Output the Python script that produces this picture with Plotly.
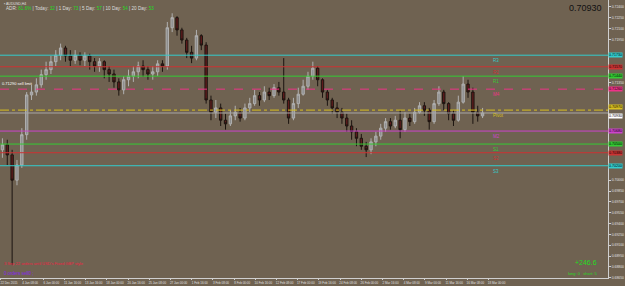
import plotly.graph_objects as go

# ---------------- data ----------------
opens = [0.7042,0.7049,0.7035,0.7000,0.7021,0.7063,0.7118,0.7122,0.7132,0.7146,
         0.7153,0.7164,0.7173,0.7183,0.7172,0.7166,0.7173,0.7166,0.7172,0.7164,
         0.7158,0.7164,0.7153,0.7147,0.7136,0.7125,0.7139,0.7144,0.7150,0.7158,
         0.7153,0.7147,0.7150,0.7161,0.7158,0.7211,0.7225,0.7208,0.7194,0.7177,
         0.7169,0.7200,0.7187,0.7111,0.7094,0.7100,0.7083,0.7078,0.7089,0.7094,
         0.7086,0.7100,0.7106,0.7117,0.7111,0.7122,0.7117,0.7128,0.7122,0.7111,
         0.7086,0.7106,0.7119,0.7130,0.7144,0.7155,0.7139,0.7122,0.7111,0.7100,
         0.7094,0.7086,0.7075,0.7067,0.7058,0.7047,0.7042,0.7053,0.7061,0.7072,
         0.7081,0.7075,0.7083,0.7070,0.7086,0.7081,0.7094,0.7103,0.7097,0.7081,
         0.7106,0.7122,0.7106,0.7092,0.7083,0.7108,0.7133,0.7122,0.7094,0.7089]
highs = [0.7058,0.7056,0.7042,0.7028,0.7072,0.7122,0.7132,0.7141,0.7153,0.7164,
         0.7172,0.7180,0.7189,0.7186,0.7180,0.7180,0.7177,0.7177,0.7175,0.7169,
         0.7169,0.7166,0.7158,0.7153,0.7141,0.7144,0.7153,0.7158,0.7164,0.7166,
         0.7158,0.7158,0.7166,0.7166,0.7219,0.7231,0.7227,0.7211,0.7197,0.7186,
         0.7208,0.7202,0.7191,0.7117,0.7111,0.7106,0.7092,0.7097,0.7103,0.7100,
         0.7106,0.7114,0.7125,0.7122,0.7130,0.7128,0.7133,0.7136,0.7169,0.7114,
         0.7114,0.7128,0.7139,0.7150,0.7164,0.7158,0.7141,0.7125,0.7114,0.7108,
         0.7100,0.7092,0.7083,0.7072,0.7064,0.7053,0.7058,0.7067,0.7078,0.7086,
         0.7086,0.7089,0.7097,0.7094,0.7092,0.7100,0.7108,0.7108,0.7100,0.7111,
         0.7130,0.7125,0.7108,0.7097,0.7117,0.7144,0.7139,0.7128,0.7103,0.7100]
lows = [0.7031,0.7021,0.6883,0.6993,0.7017,0.7056,0.7111,0.7117,0.7128,0.7139,
        0.7147,0.7158,0.7166,0.7164,0.7158,0.7161,0.7159,0.7158,0.7153,0.7150,
        0.7150,0.7141,0.7136,0.7128,0.7117,0.7119,0.7130,0.7136,0.7141,0.7143,
        0.7139,0.7139,0.7144,0.7150,0.7153,0.7205,0.7200,0.7189,0.7169,0.7162,
        0.7166,0.7180,0.7106,0.7083,0.7086,0.7075,0.7070,0.7075,0.7083,0.7081,
        0.7083,0.7094,0.7103,0.7103,0.7108,0.7111,0.7114,0.7117,0.7106,0.7078,
        0.7083,0.7100,0.7117,0.7125,0.7139,0.7130,0.7114,0.7103,0.7092,0.7086,
        0.7078,0.7067,0.7056,0.7047,0.7042,0.7032,0.7036,0.7047,0.7056,0.7067,
        0.7070,0.7072,0.7058,0.7067,0.7075,0.7078,0.7092,0.7089,0.7070,0.7078,
        0.7103,0.7097,0.7083,0.7075,0.7081,0.7106,0.7114,0.7078,0.7081,0.7086]
closes = [0.7049,0.7035,0.7000,0.7021,0.7063,0.7118,0.7122,0.7132,0.7146,0.7153,
          0.7164,0.7173,0.7183,0.7172,0.7166,0.7173,0.7166,0.7172,0.7164,0.7158,
          0.7164,0.7153,0.7147,0.7136,0.7125,0.7139,0.7144,0.7150,0.7158,0.7153,
          0.7147,0.7150,0.7161,0.7158,0.7211,0.7225,0.7208,0.7194,0.7177,0.7169,
          0.7200,0.7187,0.7111,0.7094,0.7100,0.7083,0.7078,0.7089,0.7094,0.7086,
          0.7100,0.7106,0.7117,0.7111,0.7122,0.7117,0.7128,0.7122,0.7111,0.7086,
          0.7106,0.7119,0.7130,0.7144,0.7155,0.7139,0.7122,0.7111,0.7100,0.7094,
          0.7086,0.7075,0.7067,0.7058,0.7047,0.7042,0.7053,0.7061,0.7072,0.7081,
          0.7075,0.7083,0.7070,0.7086,0.7081,0.7094,0.7103,0.7097,0.7081,0.7106,
          0.7122,0.7106,0.7092,0.7083,0.7108,0.7133,0.7122,0.7094,0.7089,0.7093]

date_labels = ["22 Dec 2015", "4 Jan 08:00", "6 Jan 00:00", "11 Jan 16:00", "13 Jan 16:00",
               "18 Jan 00:00", "20 Jan 16:00", "25 Jan 08:00", "27 Jan 00:00", "1 Feb 16:00",
               "3 Feb 08:00", "8 Feb 00:00", "10 Feb 16:00", "12 Feb 08:00", "17 Feb 00:00",
               "19 Feb 16:00", "24 Feb 08:00", "26 Feb 00:00", "2 Mar 16:00", "4 Mar 08:00",
               "9 Mar 00:00", "11 Mar 16:00", "16 Mar 08:00", "18 Mar 00:00"]

level_names = ["R3", "R2", "R1", "M4", "Pivot", "M2", "S1", "S2", "S3"]
level_values = [0.7173, 0.7157, 0.7144, 0.7126, 0.7097, 0.7068, 0.7050, 0.7038, 0.7020]
level_colors = ["#33cccc", "#cc3333", "#33cc33", "#ee3388", "#d8c020", "#cc44cc", "#33cc33", "#cc3333", "#33cccc"]
level_dash = ["solid", "solid", "solid", "dash", "dashdot", "solid", "solid", "solid", "solid"]

price_ticks = [0.7240 - 0.0015 * k for k in range(26)]
bid = 0.70930

adr_parts = [("ADR: ", "81.6%"), (" | Today: ", "32"), (" | 1 Day: ", "73"),
             (" | 5 Day: ", "57"), (" | 10 Day: ", "54"), (" | 20 Day: ", "53")]

BG = "#6f6251"
FG = "#e0e0e0"

# tick labels hidden behind the coloured price boxes are not drawn
marked = level_values + [bid]
shown_ticks = [t for t in price_ticks if min(abs(t - m) for m in marked) > 0.0009]

xs = list(range(len(closes)))
fig = go.Figure()
fig.add_trace(go.Candlestick(
    x=xs, open=opens, high=highs, low=lows, close=closes,
    increasing=dict(line=dict(color="#b0b0b0", width=1), fillcolor="#8e8e8e"),
    decreasing=dict(line=dict(color="#1c1410", width=1), fillcolor="#5e1c1c"),
    whiskerwidth=0, showlegend=False, hoverinfo="skip"))

shapes = []
annotations = []
for name, val, col, dash in zip(level_names, level_values, level_colors, level_dash):
    shapes.append(dict(type="line", xref="paper", x0=0, x1=1, yref="y", y0=val, y1=val,
                       line=dict(color=col, width=1, dash=dash)))
    annotations.append(dict(xref="paper", x=0.808, yref="y", y=val, text=name,
                            showarrow=False, xanchor="left", yanchor="top", yshift=-1,
                            font=dict(size=4.5, color=col, family="Arial")))
    annotations.append(dict(xref="paper", x=1.0, yref="y", y=val, text=f"{val:.5f}",
                            showarrow=False, xanchor="left",
                            yanchor="bottom" if name == "Pivot" else "middle", bgcolor=col,
                            borderpad=0, font=dict(size=3.6, color="#000000", family="Arial")))
# bid line
shapes.append(dict(type="line", xref="paper", x0=0, x1=1, yref="y", y0=bid, y1=bid,
                   line=dict(color="#a8a8a8", width=1)))
annotations.append(dict(xref="paper", x=1.0, yref="y", y=bid, text=f"{bid:.5f}",
                        showarrow=False, xanchor="left", yanchor="top", bgcolor="#ffffff",
                        borderpad=0, font=dict(size=3.6, color="#000000", family="Arial")))
# order label on the left
annotations.append(dict(xref="paper", x=0.0, yref="y", y=level_values[3], text="0.71290 sell limit",
                        showarrow=False, xanchor="left", yanchor="bottom", yshift=1,
                        font=dict(size=4, color="#ffffff", family="Arial")))

# top texts
annotations.append(dict(xref="paper", yref="paper", x=0.003, y=1.0, xanchor="left", yanchor="top",
                        text="▪ AUDUSD,H4", showarrow=False, font=dict(size=3.5, color=FG, family="Arial")))
adr_text = "".join(f"<span style='color:#dddddd'>{a}</span><span style='color:#22dd22'>{b}</span>" for a, b in adr_parts)
annotations.append(dict(xref="paper", yref="paper", x=0.006, y=0.987, xanchor="left", yanchor="top",
                        text=adr_text, showarrow=False, font=dict(size=4.6, family="Arial")))
annotations.append(dict(xref="paper", yref="paper", x=0.993, y=0.995, xanchor="right", yanchor="top",
                        text=f"{bid:.5f}", showarrow=False, font=dict(size=9, color="#111111", family="Arial")))
# bottom right
annotations.append(dict(xref="paper", yref="paper", x=0.985, y=0.035, xanchor="right", yanchor="bottom",
                        text="+246.6", showarrow=False, font=dict(size=7, color="#22dd22", family="Arial")))
annotations.append(dict(xref="paper", yref="paper", x=0.985, y=0.0, xanchor="right", yanchor="bottom",
                        text="long: 0   short: 5", showarrow=False, font=dict(size=4, color="#22dd22", family="Arial")))
# bottom left
annotations.append(dict(xref="paper", yref="paper", x=0.004, y=0.035, xanchor="left", yanchor="bottom",
                        text="3 Sep 22 orders until USD's Fixed GBP style", showarrow=False,
                        font=dict(size=4, color="#ee2244", family="Arial")))
annotations.append(dict(xref="paper", yref="paper", x=0.004, y=0.0, xanchor="left", yanchor="bottom",
                        text="0 orders sell0 ;", showarrow=False,
                        font=dict(size=4.5, color="#8822ee", family="Arial")))

step = 21.2 / 4.85
tickvals = [-0.3 + k * step for k in range(len(date_labels))]

fig.update_layout(
    width=625, height=286,
    margin=dict(l=0, r=17, t=0, b=8, autoexpand=False),
    paper_bgcolor=BG, plot_bgcolor=BG,
    shapes=shapes, annotations=annotations,
    xaxis=dict(range=[-0.5, 608 / 4.85 - 0.5], rangeslider=dict(visible=False),
               showgrid=False, zeroline=False, showline=True, linecolor="#cfcfcf", linewidth=1,
               tickmode="array", tickvals=tickvals, ticktext=date_labels, tickangle=0,
               automargin=False,
               ticks="outside", ticklen=1, tickcolor="#cfcfcf",
               tickfont=dict(size=3, color=FG, family="Arial"), ticklabelshift=8, ticklabelstandoff=0),
    yaxis=dict(side="right", range=[0.68646, 0.72494], showgrid=False, zeroline=False,
               showline=True, linecolor="#cfcfcf", linewidth=1, automargin=False,
               tickmode="array", tickvals=shown_ticks, ticktext=[f"{v:.5f}" for v in shown_ticks],
               ticks="outside", ticklen=2, tickcolor="#cfcfcf",
               tickfont=dict(size=3.4, color=FG, family="Arial")),
)

fig.write_html("out.html")
